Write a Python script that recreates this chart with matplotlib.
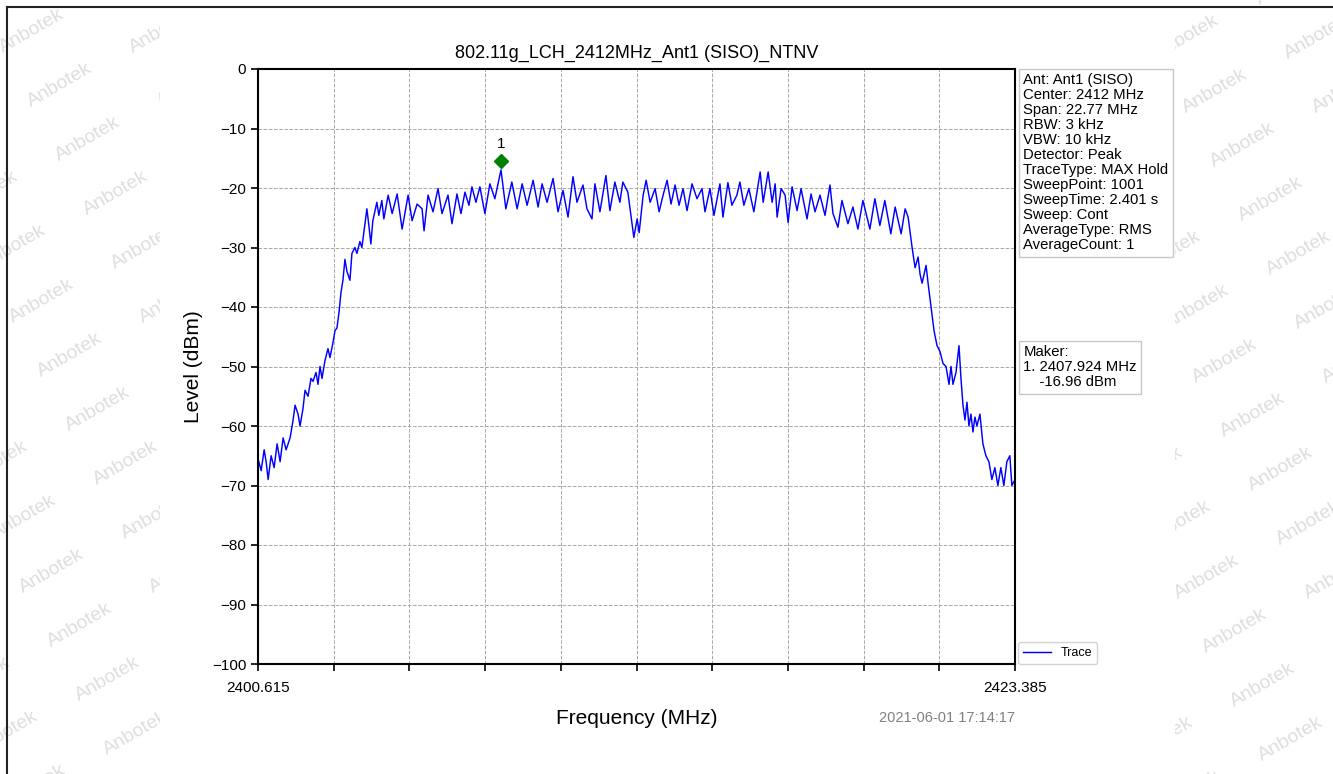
import numpy as np
import matplotlib
matplotlib.use("Agg")
import matplotlib.pyplot as plt
from matplotlib.transforms import offset_copy
from matplotlib.lines import Line2D

plt.rcParams['font.family'] = ['Liberation Sans', 'DejaVu Sans']

# ---------------- data ----------------
title = "802.11g_LCH_2412MHz_Ant1 (SISO)_NTNV"
f_start = 2400.615
f_stop = 2423.385

freq_mhz = [
    2400.615, 2400.71, 2400.80, 2400.86, 2400.92, 2401.01, 2401.10, 2401.19, 2401.28, 2401.37,
    2401.46, 2401.58, 2401.67, 2401.73, 2401.82, 2401.88, 2401.97, 2402.03, 2402.12, 2402.21,
    2402.27, 2402.36, 2402.42, 2402.48, 2402.54, 2402.63, 2402.72, 2402.78, 2402.87, 2402.93,
    2402.99, 2403.05, 2403.11, 2403.17, 2403.23, 2403.29, 2403.38, 2403.44, 2403.53, 2403.59,
    2403.68, 2403.74, 2403.89, 2403.95, 2404.01, 2404.07, 2404.19, 2404.25, 2404.34, 2404.40,
    2404.53, 2404.65, 2404.80, 2404.95, 2405.13, 2405.25, 2405.40, 2405.55, 2405.61, 2405.73,
    2405.88, 2406.03, 2406.15, 2406.33, 2406.45, 2406.60, 2406.72, 2406.84, 2406.96, 2407.05,
    2407.17, 2407.29, 2407.44, 2407.59, 2407.74, 2407.924, 2408.07, 2408.25, 2408.41, 2408.56,
    2408.71, 2408.89, 2409.04, 2409.16, 2409.31, 2409.49, 2409.64, 2409.79, 2409.94, 2410.09,
    2410.21, 2410.39, 2410.51, 2410.66, 2410.75, 2410.90, 2411.08, 2411.20, 2411.35, 2411.50,
    2411.59, 2411.74, 2411.86, 2411.92, 2412.02, 2412.08, 2412.20, 2412.29, 2412.41, 2412.56,
    2412.68, 2412.80, 2412.92, 2413.04, 2413.16, 2413.28, 2413.40, 2413.52, 2413.67, 2413.82,
    2413.97, 2414.06, 2414.21, 2414.33, 2414.51, 2414.60, 2414.75, 2414.87, 2415.02, 2415.11,
    2415.23, 2415.38, 2415.53, 2415.72, 2415.81, 2415.96, 2416.08, 2416.17, 2416.23, 2416.35,
    2416.47, 2416.56, 2416.68, 2416.83, 2416.95, 2417.13, 2417.25, 2417.37, 2417.52, 2417.67,
    2417.82, 2417.91, 2418.06, 2418.18, 2418.36, 2418.51, 2418.66, 2418.81, 2419.02, 2419.17,
    2419.32, 2419.47, 2419.65, 2419.78, 2419.96, 2420.08, 2420.17, 2420.29, 2420.38, 2420.47,
    2420.53, 2420.59, 2420.71, 2420.77, 2420.86, 2420.95, 2421.04, 2421.13, 2421.22, 2421.31,
    2421.40, 2421.46, 2421.52, 2421.61, 2421.70, 2421.76, 2421.82, 2421.88, 2421.94, 2422.00,
    2422.06, 2422.12, 2422.18, 2422.24, 2422.33, 2422.42, 2422.51, 2422.60, 2422.69, 2422.78,
    2422.87, 2422.96, 2423.05, 2423.14, 2423.23, 2423.29, 2423.385,
]

level_dbm = [
    -65.5, -67.5, -64.0, -66.0, -69.0, -65.0, -67.0, -63.0, -66.0, -62.0,
    -64.0, -62.0, -59.0, -56.5, -58.0, -60.0, -57.0, -54.0, -55.0, -52.0,
    -52.5, -51.0, -53.0, -50.0, -52.0, -49.0, -47.0, -48.5, -46.0, -44.0,
    -43.5, -41.0, -37.6, -35.5, -32.0, -34.0, -35.5, -31.0, -30.0, -31.0,
    -29.0, -30.0, -23.5, -26.3, -29.4, -25.5, -22.4, -24.6, -22.1, -25.2,
    -21.2, -24.3, -21.0, -26.9, -21.2, -25.5, -22.7, -23.5, -27.2, -21.2,
    -24.0, -20.1, -24.3, -21.2, -26.0, -21.0, -24.3, -20.7, -22.9, -19.8,
    -22.4, -19.8, -24.3, -19.3, -21.8, -16.96, -23.5, -19.0, -23.5, -19.3,
    -22.9, -18.7, -23.2, -19.3, -22.4, -18.4, -24.0, -20.4, -24.9, -18.1,
    -22.4, -19.5, -23.5, -25.2, -19.3, -24.0, -17.9, -23.8, -19.0, -22.4,
    -19.0, -20.7, -25.8, -28.3, -25.2, -27.5, -21.2, -18.7, -22.4, -20.1,
    -24.0, -21.2, -18.7, -22.7, -19.5, -22.9, -20.1, -23.8, -19.3, -21.8,
    -20.1, -24.0, -20.1, -24.6, -19.3, -24.9, -19.1, -22.9, -21.2, -19.0,
    -22.9, -20.1, -24.0, -17.3, -22.4, -17.3, -22.4, -19.3, -24.9, -20.1,
    -21.2, -25.8, -19.8, -23.8, -20.1, -25.2, -21.0, -24.0, -21.2, -24.6,
    -19.5, -24.3, -26.6, -22.1, -26.0, -23.2, -26.9, -22.1, -26.9, -21.8,
    -26.3, -22.1, -27.7, -23.2, -27.7, -23.5, -24.9, -30.0, -33.4, -31.6,
    -34.5, -36.0, -33.0, -36.0, -40.0, -44.0, -46.5, -47.5, -49.5, -50.0,
    -53.0, -50.0, -53.0, -51.0, -46.5, -52.0, -56.5, -59.0, -56.0, -60.0,
    -58.0, -61.0, -58.5, -60.0, -58.0, -63.0, -65.0, -66.0, -69.0, -67.0,
    -70.0, -67.0, -70.0, -66.0, -65.0, -70.0, -69.0,
]

marker_freq = 2407.924
marker_level = -16.96

info_lines = [
    "Ant: Ant1 (SISO)", "Center: 2412 MHz", "Span: 22.77 MHz", "RBW: 3 kHz",
    "VBW: 10 kHz", "Detector: Peak", "TraceType: MAX Hold", "SweepPoint: 1001",
    "SweepTime: 2.401 s", "Sweep: Cont", "AverageType: RMS", "AverageCount: 1",
]
maker_lines = ["Maker:", "1. 2407.924 MHz", "    -16.96 dBm"]
timestamp = "2021-06-01 17:14:17"
y_ticks = [0, -10, -20, -30, -40, -50, -60, -70, -80, -90, -100]

# ---------------- figure ----------------
W, H = 1333, 774
fig = plt.figure(figsize=(W / 100, H / 100), dpi=100)
fig.patch.set_facecolor('white')


# watermark strips (left & right margins), clipped like the reference
def strip(x0, x1, base):
    sax = fig.add_axes([x0 / W, 0, (x1 - x0) / W, 1], zorder=0)
    sax.set_xlim(x0, x1)
    sax.set_ylim(H, 0)
    sax.axis('off')
    v1 = np.array([28, 54])
    v2 = np.array([130, 0])
    for i in range(-20, 25):
        for j in range(-12, 12):
            p = np.array(base) + i * v1 + j * v2
            if x0 - 80 < p[0] < x1 + 80 and -60 < p[1] < H + 60:
                sax.text(p[0], p[1], "Anbotek", rotation=30, fontsize=14,
                         color='#dedede', ha='center', va='center',
                         rotation_mode='anchor', clip_on=True)


strip(0, 160, (60, 85))
strip(1175, W, (1243, 145))

# figure frame (top and left edges)
fig.add_artist(Line2D([7 / W, 1], [1 - 7 / H, 1 - 7 / H], color='#222222', lw=1.5,
                      transform=fig.transFigure))
fig.add_artist(Line2D([7 / W, 7 / W], [0, 1 - 7 / H], color='#222222', lw=1.5,
                      transform=fig.transFigure))

ax_l, ax_r, ax_t, ax_b = 258, 1015, 69, 664
ax = fig.add_axes([ax_l / W, 1 - ax_b / H, (ax_r - ax_l) / W, (ax_b - ax_t) / H], zorder=2)

ax.plot(freq_mhz, level_dbm, color='#0000ff', lw=1.05, label='Trace')

mk_tr = offset_copy(ax.transData, fig=fig, x=0, y=6.5, units='points')
ax.plot([marker_freq], [marker_level], marker='D', color='#008000', markersize=7.5,
        linestyle='none', transform=mk_tr, zorder=5)
ax.annotate("1", xy=(marker_freq, marker_level), xytext=(0, 19), textcoords='offset points',
            ha='center', va='center', fontsize=11)

ax.set_xlim(f_start, f_stop)
ax.set_ylim(-100, 0)
xt = np.linspace(f_start, f_stop, 11)
ax.set_xticks(xt)
ax.set_xticklabels(["2400.615"] + [""] * 9 + ["2423.385"])
ax.set_yticks(y_ticks)
ax.tick_params(axis='both', labelsize=11, direction='out', length=5, width=1.2)
ax.tick_params(axis='x', pad=7)
ax.grid(True, color='#a8a8a8', linestyle='--', linewidth=0.7)
for s in ax.spines.values():
    s.set_linewidth(1.5)

ax.set_title(title, fontsize=13, pad=8)
ax.set_xlabel("Frequency (MHz)", fontsize=15, labelpad=10)
ax.set_ylabel("Level (dBm)", fontsize=15, labelpad=6)

ax.text(1.0, -0.09, timestamp, transform=ax.transAxes, ha='right', va='center',
        fontsize=10.5, color='#808080')

ax.text(1.011, 0.993, "\n".join(info_lines), transform=ax.transAxes, ha='left', va='top',
        fontsize=10.7, linespacing=1.09,
        bbox=dict(boxstyle='square,pad=0.3', fc='white', ec='#c8c8c8', lw=1.0))
ax.text(1.011, 0.536, "\n".join(maker_lines), transform=ax.transAxes, ha='left', va='top',
        fontsize=10.7, linespacing=1.09,
        bbox=dict(boxstyle='square,pad=0.3', fc='white', ec='#c8c8c8', lw=1.0))

leg = ax.legend(loc='lower left', bbox_to_anchor=(1.004, 0.0), borderaxespad=0,
                fontsize=9, frameon=True, fancybox=True, handlelength=2.2)
leg.get_frame().set_edgecolor('#c8c8c8')

fig.savefig("out.png", dpi=100, facecolor='white')
